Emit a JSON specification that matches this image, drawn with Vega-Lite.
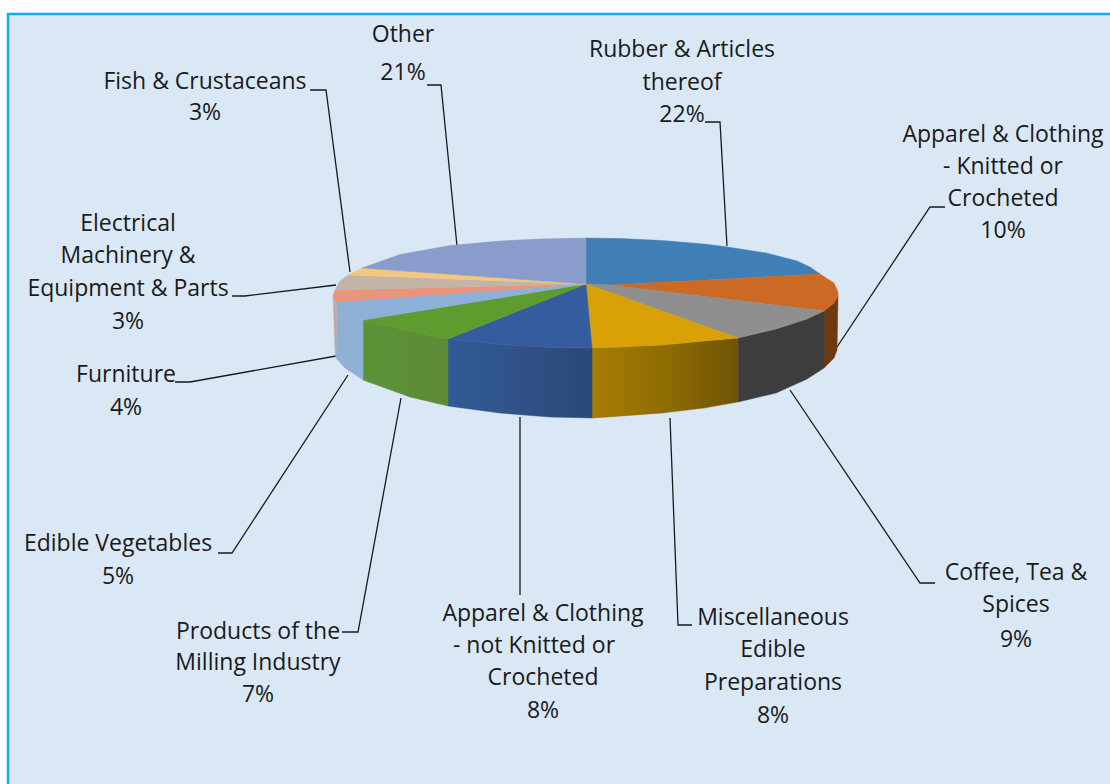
{"$schema":"https://vega.github.io/schema/vega-lite/v6.json","width":1110,"height":784,"padding":0,"autosize":{"type":"none"},"background":"#ffffff","view":{"stroke":null},
"datasets":{
"frame":[{"x":8,"x2":1110,"y":14,"y2":784}],
"border":[{"i":0,"x":8,"y":784},{"i":1,"x":8,"y":14},{"i":2,"x":1110,"y":14}],
"top":[
{"k":"Rubber","i":0,"x":586,"y":284},{"k":"Rubber","i":1,"x":586,"y":238},{"k":"Rubber","i":2,"x":621,"y":238.6},{"k":"Rubber","i":3,"x":662,"y":240.5},{"k":"Rubber","i":4,"x":704,"y":244},{"k":"Rubber","i":5,"x":724,"y":246.5},{"k":"Rubber","i":6,"x":766,"y":253},{"k":"Rubber","i":7,"x":797,"y":261},{"k":"Rubber","i":8,"x":810,"y":267},{"k":"Rubber","i":9,"x":820,"y":274},{"k":"Rubber","i":10,"x":610,"y":285},
{"k":"Orange","i":0,"x":610,"y":285},{"k":"Orange","i":1,"x":820,"y":274},{"k":"Orange","i":2,"x":834,"y":283},{"k":"Orange","i":3,"x":838,"y":292},{"k":"Orange","i":4,"x":838,"y":296},{"k":"Orange","i":5,"x":834,"y":303},{"k":"Orange","i":6,"x":824,"y":311},
{"k":"Gray","i":0,"x":586,"y":284},{"k":"Gray","i":1,"x":610,"y":285},{"k":"Gray","i":2,"x":824,"y":311},{"k":"Gray","i":3,"x":807,"y":319},{"k":"Gray","i":4,"x":776,"y":329},{"k":"Gray","i":5,"x":738,"y":338},
{"k":"Yellow","i":0,"x":586,"y":284},{"k":"Yellow","i":1,"x":738,"y":338},{"k":"Yellow","i":2,"x":704,"y":341},{"k":"Yellow","i":3,"x":662,"y":345},{"k":"Yellow","i":4,"x":621,"y":347},{"k":"Yellow","i":5,"x":592,"y":348},
{"k":"Blue","i":0,"x":586,"y":284},{"k":"Blue","i":1,"x":592,"y":348},{"k":"Blue","i":2,"x":550,"y":347.5},{"k":"Blue","i":3,"x":500,"y":344.5},{"k":"Blue","i":4,"x":448,"y":339},
{"k":"Green","i":0,"x":586,"y":284},{"k":"Green","i":1,"x":448,"y":339},{"k":"Green","i":2,"x":410,"y":331},{"k":"Green","i":3,"x":363,"y":320},
{"k":"LightBlue","i":0,"x":586,"y":284},{"k":"LightBlue","i":1,"x":363,"y":320},{"k":"LightBlue","i":2,"x":345,"y":310},{"k":"LightBlue","i":3,"x":337,"y":302},
{"k":"Salmon","i":0,"x":586,"y":284},{"k":"Salmon","i":1,"x":337,"y":302},{"k":"Salmon","i":2,"x":333,"y":296},{"k":"Salmon","i":3,"x":335,"y":290},
{"k":"Tan","i":0,"x":586,"y":284},{"k":"Tan","i":1,"x":335,"y":290},{"k":"Tan","i":2,"x":340,"y":281},{"k":"Tan","i":3,"x":348,"y":275},
{"k":"Fish","i":0,"x":586,"y":284},{"k":"Fish","i":1,"x":348,"y":275},{"k":"Fish","i":2,"x":362,"y":268},
{"k":"Other","i":0,"x":586,"y":284},{"k":"Other","i":1,"x":362,"y":268},{"k":"Other","i":2,"x":400,"y":254.5},{"k":"Other","i":3,"x":450,"y":245.5},{"k":"Other","i":4,"x":500,"y":241},{"k":"Other","i":5,"x":540,"y":239},{"k":"Other","i":6,"x":586,"y":238}
],
"wall":[
{"k":"Orange","i":0,"x":838,"y":296},{"k":"Orange","i":1,"x":834,"y":303},{"k":"Orange","i":2,"x":824,"y":311},{"k":"Orange","i":3,"x":824,"y":368},{"k":"Orange","i":4,"x":834,"y":358},{"k":"Orange","i":5,"x":837,"y":350},
{"k":"Gray","i":0,"x":824,"y":311},{"k":"Gray","i":1,"x":807,"y":319},{"k":"Gray","i":2,"x":776,"y":329},{"k":"Gray","i":3,"x":738,"y":338},{"k":"Gray","i":4,"x":738,"y":402},{"k":"Gray","i":5,"x":776,"y":393},{"k":"Gray","i":6,"x":807,"y":379},{"k":"Gray","i":7,"x":824,"y":368},
{"k":"Yellow","i":0,"x":738,"y":338},{"k":"Yellow","i":1,"x":704,"y":341},{"k":"Yellow","i":2,"x":662,"y":345},{"k":"Yellow","i":3,"x":621,"y":347},{"k":"Yellow","i":4,"x":592,"y":348},{"k":"Yellow","i":5,"x":592,"y":418},{"k":"Yellow","i":6,"x":621,"y":416},{"k":"Yellow","i":7,"x":662,"y":413},{"k":"Yellow","i":8,"x":704,"y":408},{"k":"Yellow","i":9,"x":738,"y":402},
{"k":"Blue","i":0,"x":592,"y":348},{"k":"Blue","i":1,"x":550,"y":347.5},{"k":"Blue","i":2,"x":500,"y":344.5},{"k":"Blue","i":3,"x":448,"y":339},{"k":"Blue","i":4,"x":448,"y":406},{"k":"Blue","i":5,"x":500,"y":413},{"k":"Blue","i":6,"x":550,"y":417},{"k":"Blue","i":7,"x":592,"y":418},
{"k":"Green","i":0,"x":448,"y":339},{"k":"Green","i":1,"x":410,"y":331},{"k":"Green","i":2,"x":363,"y":320},{"k":"Green","i":3,"x":363,"y":380},{"k":"Green","i":4,"x":410,"y":397},{"k":"Green","i":5,"x":448,"y":406},
{"k":"LightBlue","i":0,"x":363,"y":320},{"k":"LightBlue","i":1,"x":345,"y":310},{"k":"LightBlue","i":2,"x":337,"y":302},{"k":"LightBlue","i":3,"x":336,"y":358},{"k":"LightBlue","i":4,"x":345,"y":368},{"k":"LightBlue","i":5,"x":363,"y":380},
{"k":"Salmon","i":0,"x":337,"y":302},{"k":"Salmon","i":1,"x":333,"y":296},{"k":"Salmon","i":2,"x":335,"y":350},{"k":"Salmon","i":3,"x":336,"y":358}
],
"leaders":[
{"k":"a","i":0,"x":727,"y":246},{"k":"a","i":1,"x":720,"y":122},{"k":"a","i":2,"x":705,"y":122},
{"k":"b","i":0,"x":835,"y":350},{"k":"b","i":1,"x":930,"y":207},{"k":"b","i":2,"x":945,"y":207},
{"k":"c","i":0,"x":790,"y":390},{"k":"c","i":1,"x":920,"y":583},{"k":"c","i":2,"x":935,"y":583},
{"k":"d","i":0,"x":670,"y":418},{"k":"d","i":1,"x":678,"y":625},{"k":"d","i":2,"x":692,"y":625},
{"k":"e","i":0,"x":520,"y":417},{"k":"e","i":1,"x":520,"y":595},
{"k":"f","i":0,"x":401,"y":398},{"k":"f","i":1,"x":358,"y":632},{"k":"f","i":2,"x":342,"y":632},
{"k":"g","i":0,"x":348,"y":375},{"k":"g","i":1,"x":232,"y":553},{"k":"g","i":2,"x":218,"y":553},
{"k":"h","i":0,"x":336,"y":356},{"k":"h","i":1,"x":190,"y":382},{"k":"h","i":2,"x":175,"y":382},
{"k":"m","i":0,"x":336,"y":285},{"k":"m","i":1,"x":245,"y":296},{"k":"m","i":2,"x":232,"y":296},
{"k":"n","i":0,"x":350,"y":272},{"k":"n","i":1,"x":326,"y":90},{"k":"n","i":2,"x":310,"y":90},
{"k":"o","i":0,"x":457,"y":246},{"k":"o","i":1,"x":441,"y":85},{"k":"o","i":2,"x":427,"y":85}
],
"labels":[
{"t":"Other","x":403,"y":35},{"t":"21%","x":403,"y":73},
{"t":"Rubber & Articles","x":682,"y":50},{"t":"thereof","x":682,"y":83},{"t":"22%","x":682,"y":115},
{"t":"Apparel & Clothing","x":1003,"y":135},{"t":"- Knitted or","x":1003,"y":167},{"t":"Crocheted","x":1003,"y":199},{"t":"10%","x":1003,"y":231},
{"t":"Fish & Crustaceans","x":205,"y":82},{"t":"3%","x":205,"y":113},
{"t":"Electrical","x":128,"y":224},{"t":"Machinery &","x":128,"y":256},{"t":"Equipment & Parts","x":128,"y":289},{"t":"3%","x":128,"y":322},
{"t":"Furniture","x":126,"y":375},{"t":"4%","x":126,"y":408},
{"t":"Edible Vegetables","x":118,"y":544},{"t":"5%","x":118,"y":577},
{"t":"Products of the","x":258,"y":632},{"t":"Milling Industry","x":258,"y":663},{"t":"7%","x":258,"y":695},
{"t":"Apparel & Clothing","x":543,"y":614},{"t":"- not Knitted or","x":534,"y":646},{"t":"Crocheted","x":543,"y":678},{"t":"8%","x":543,"y":711},
{"t":"Miscellaneous","x":773,"y":618},{"t":"Edible","x":773,"y":650},{"t":"Preparations","x":773,"y":683},{"t":"8%","x":773,"y":716},
{"t":"Coffee, Tea &","x":1016,"y":573},{"t":"Spices","x":1016,"y":605},{"t":"9%","x":1016,"y":640}
]},
"encoding":{
"x":{"field":"x","type":"quantitative","scale":{"domain":[0,1110],"nice":false,"zero":false},"axis":null},
"y":{"field":"y","type":"quantitative","scale":{"domain":[784,0],"nice":false,"zero":false},"axis":null}},
"layer":[
{"data":{"name":"frame"},"mark":{"type":"rect","fill":"#dae8f6"},"encoding":{"x2":{"field":"x2"},"y2":{"field":"y2"}}},
{"data":{"name":"border"},"mark":{"type":"line","stroke":"#12ade9","strokeWidth":2.5},"encoding":{"order":{"field":"i"}}},
{"data":{"name":"leaders"},"mark":{"type":"line","stroke":"#1a1a1a","strokeWidth":1.3},"encoding":{"detail":{"field":"k"},"order":{"field":"i"}}},
{"data":{"name":"wall"},"transform":[{"filter":"datum.k==='Orange'"}],"mark":{"type":"line","filled":true,"interpolate":"linear-closed","fill":"#6e3a12","stroke":"#6e3a12","strokeWidth":0.5},"encoding":{"order":{"field":"i"}}},
{"data":{"name":"wall"},"transform":[{"filter":"datum.k==='Gray'"}],"mark":{"type":"line","filled":true,"interpolate":"linear-closed","fill":"#3d3d3d","stroke":"#3d3d3d","strokeWidth":0.5},"encoding":{"order":{"field":"i"}}},
{"data":{"name":"wall"},"transform":[{"filter":"datum.k==='Yellow'"}],"mark":{"type":"line","filled":true,"interpolate":"linear-closed","stroke":"#86640a","strokeWidth":0.5,"fill":{"gradient":"linear","x1":0,"y1":0,"x2":1,"y2":0,"stops":[{"offset":0,"color":"#a67d05"},{"offset":0.5,"color":"#8f6c02"},{"offset":1,"color":"#6f5406"}]}},"encoding":{"order":{"field":"i"}}},
{"data":{"name":"wall"},"transform":[{"filter":"datum.k==='Blue'"}],"mark":{"type":"line","filled":true,"interpolate":"linear-closed","stroke":"#2f4f85","strokeWidth":0.5,"fill":{"gradient":"linear","x1":0,"y1":0,"x2":1,"y2":0,"stops":[{"offset":0,"color":"#2e5a96"},{"offset":0.5,"color":"#315288"},{"offset":1,"color":"#2a4778"}]}},"encoding":{"order":{"field":"i"}}},
{"data":{"name":"wall"},"transform":[{"filter":"datum.k==='Green'"}],"mark":{"type":"line","filled":true,"interpolate":"linear-closed","stroke":"#5f8d38","strokeWidth":0.5,"fill":{"gradient":"linear","x1":0,"y1":0,"x2":1,"y2":0,"stops":[{"offset":0,"color":"#5a9436"},{"offset":1,"color":"#5f8a38"}]}},"encoding":{"order":{"field":"i"}}},
{"data":{"name":"wall"},"transform":[{"filter":"datum.k==='LightBlue'"}],"mark":{"type":"line","filled":true,"interpolate":"linear-closed","fill":"#90b0d4","stroke":"#90b0d4","strokeWidth":0.5},"encoding":{"order":{"field":"i"}}},
{"data":{"name":"wall"},"transform":[{"filter":"datum.k==='Salmon'"}],"mark":{"type":"line","filled":true,"interpolate":"linear-closed","fill":"#bdaaa5","stroke":"#bdaaa5","strokeWidth":0.5},"encoding":{"order":{"field":"i"}}},
{"data":{"name":"top"},"mark":{"type":"line","filled":true,"interpolate":"linear-closed","strokeWidth":0.5},"encoding":{"color":{"field":"k","type":"nominal","legend":null,"scale":{"domain":["Rubber","Orange","Gray","Yellow","Blue","Green","LightBlue","Salmon","Tan","Fish","Other"],"range":["#3f7fb6","#cc6a25","#8f8f8f","#d9a106","#345c9f","#5f9c2f","#8cb0d8","#e9957c","#c2b5a8","#f5c67e","#8a9ccc"]}},"stroke":{"field":"k","type":"nominal","legend":null,"scale":{"domain":["Rubber","Orange","Gray","Yellow","Blue","Green","LightBlue","Salmon","Tan","Fish","Other"],"range":["#3f7fb6","#cc6a25","#8f8f8f","#d9a106","#345c9f","#5f9c2f","#8cb0d8","#e9957c","#c2b5a8","#f5c67e","#8a9ccc"]}},"order":{"field":"i"}}},
{"data":{"name":"labels"},"mark":{"type":"text","font":"Open Sans","fontSize":23,"align":"center","baseline":"middle","color":"#1a1a1a"},"encoding":{"text":{"field":"t"}}}
]}
